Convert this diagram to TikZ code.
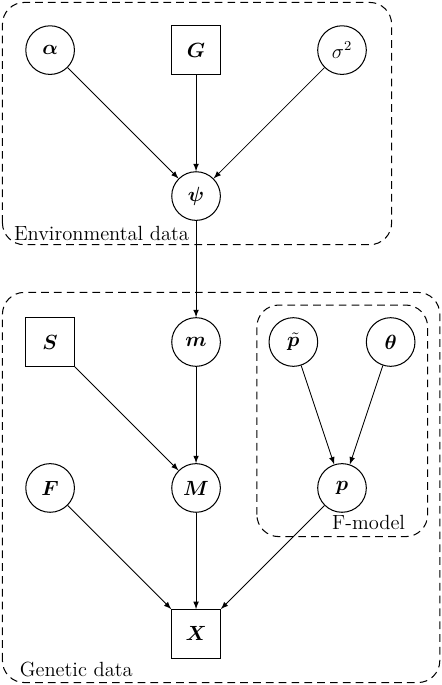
\documentclass[tikz,border=0pt]{standalone}
\usepackage{amsmath}
\usepackage{bm}
\usetikzlibrary{arrows}

\begin{document}
\begin{tikzpicture}[>=latex, font=\large, line width=0.5pt]
	\tikzset{
		latent/.style={draw,circle,minimum size=1cm,inner sep=0pt,line width=0.6pt},
		obs/.style={draw,rectangle,minimum size=1cm,inner sep=0pt,line width=0.6pt},
		plate/.style={dash pattern=on 4.5pt off 3pt,rounded corners=0.45cm,line width=0.6pt},
		platelabel/.style={anchor=base west,inner sep=0pt}
	}
	\useasboundingbox (-4.03,-1.05) rectangle (5.05,13.03);

	% environmental data
	\node[latent] (alpha) at (-3, 12) {$\bm{\alpha}$};
	\node[obs] (G) at (0, 12) {$\bm{G}$};
	\node[latent] (sigma) at (3, 12) {$\sigma^2$};
	\node[latent] (psi) at (0, 9) {$\bm{\psi}$};

	% genetic data
	\node[obs] (S) at (-3, 6) {$\bm{S}$};
	\node[latent] (m) at (0, 6) {$\bm{m}$};
	\node[latent] (ptilde) at (2, 6) {$\tilde{\bm{p}}$};
	\node[latent] (theta) at (4, 6) {$\bm{\theta}$};
	\node[latent] (F) at (-3, 3) {$\bm{F}$};
	\node[latent] (M) at (0, 3) {$\bm{M}$};
	\node[latent] (p) at (3, 3) {$\bm{p}$};
	\node[obs] (X) at (0, 0) {$\bm{X}$};

	\foreach \a in {alpha, G, sigma}{
		\draw[->] (\a) -- (psi);
	}
	\draw[->] (psi) -- (m);
	\foreach \a in {S, m}{
		\draw[->] (\a) -- (M);
	}
	\foreach \a in {ptilde, theta}{
		\draw[->] (\a) -- (p);
	}
	\foreach \a in {F, M, p}{
		\draw[->] (\a) -- (X);
	}

	% plates
	\draw[plate] (-3.98, 8) rectangle (4.02, 12.98);
	\draw[plate] (-3.98, -1) rectangle (5.01, 7.02);
	\draw[plate] (1.25, 2) rectangle (4.76, 6.76);
	\node[platelabel] (envlabel) at (-3.75, 8.09) {Environmental data};
	\node[platelabel] (genlabel) at (-3.63, -0.88) {Genetic data};
	\node[platelabel] (fmodlabel) at (2.79, 2.14) {F-model};
\end{tikzpicture}
\end{document}
